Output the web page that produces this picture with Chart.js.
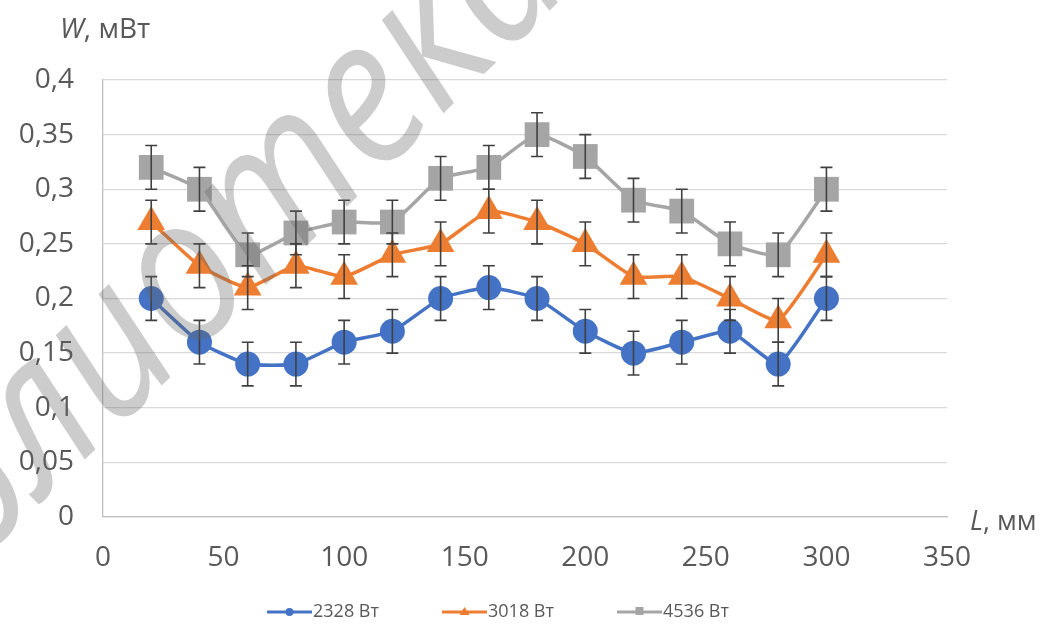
<!DOCTYPE html>
<html>
<head>
<meta charset="utf-8">
<script src="https://cdn.jsdelivr.net/npm/chart.js@4.4.1/dist/chart.umd.min.js"></script>
<style>
html,body{margin:0;padding:0;background:#fff;}
#wrap{width:1049px;height:625px;position:relative;}
</style>
</head>
<body>
<div id="wrap"><canvas id="c" width="1049" height="625"></canvas></div>
<script>
// ---- data ----
const xValues = [20, 40, 60, 80, 100, 120, 140, 160, 180, 200, 220, 240, 260, 280, 300];
const series2328 = [0.20, 0.16, 0.14, 0.14, 0.16, 0.17, 0.20, 0.21, 0.20, 0.17, 0.15, 0.16, 0.17, 0.14, 0.20];
const series3018 = [0.27, 0.23, 0.21, 0.23, 0.22, 0.24, 0.25, 0.28, 0.27, 0.25, 0.22, 0.22, 0.20, 0.18, 0.24];
const series4536 = [0.32, 0.30, 0.24, 0.26, 0.27, 0.27, 0.31, 0.32, 0.35, 0.33, 0.29, 0.28, 0.25, 0.24, 0.30];
const errors2328 = [0.02, 0.02, 0.02, 0.02, 0.02, 0.02, 0.02, 0.02, 0.02, 0.02, 0.02, 0.02, 0.02, 0.02, 0.02];
const errors3018 = [0.02, 0.02, 0.02, 0.02, 0.02, 0.02, 0.02, 0.02, 0.02, 0.02, 0.02, 0.02, 0.02, 0.02, 0.02];
const errors4536 = [0.02, 0.02, 0.02, 0.02, 0.02, 0.02, 0.02, 0.02, 0.02, 0.02, 0.02, 0.02, 0.02, 0.02, 0.02];
const seriesLabels = ['2328 Вт', '3018 Вт', '4536 Вт'];
const yTickLabels = ['0', '0,05', '0,1', '0,15', '0,2', '0,25', '0,3', '0,35', '0,4'];
const xTickLabels = ['0', '50', '100', '150', '200', '250', '300', '350'];
const yAxisTitle = ['W', ', мВт'];
const xAxisTitle = ['L', ', мм'];
const watermarkText = 'библиотека';

const FONT = '"Open Sans", "Liberation Sans", sans-serif';
const TEXT = '#595959';

function pts(ys){ return xValues.map((x,i)=>({x:x, y:ys[i]})); }

const styles = [
  {color:'#4472C4', style:'circle', radius:12.5, errs:errors2328},
  {color:'#ED7D31', style:'triangle', radius:16, errs:errors3018},
  {color:'#A5A5A5', style:'rect', radius:17.5, errs:errors4536}
];
const seriesData = [series2328, series3018, series4536];

const datasets = seriesData.map((ys,i)=>({
  label: seriesLabels[i],
  data: pts(ys),
  borderColor: styles[i].color,
  backgroundColor: styles[i].color,
  borderWidth: 3.5,
  pointStyle: styles[i].style,
  pointRadius: styles[i].radius,
  pointBorderWidth: 0,
  pointBackgroundColor: styles[i].color,
  tension: 0.15,
  fill: false
}));

const errorBarPlugin = {
  id: 'errorBars',
  afterDatasetsDraw(chart){
    const ctx = chart.ctx, xs = chart.scales.x, ys = chart.scales.y;
    ctx.save();
    ctx.strokeStyle = '#404040';
    ctx.lineWidth = 1.6;
    seriesData.forEach((vals, si)=>{
      const errs = styles[si].errs;
      vals.forEach((v,i)=>{
        const px = xs.getPixelForValue(xValues[i]);
        const top = ys.getPixelForValue(v + errs[i]);
        const bot = ys.getPixelForValue(v - errs[i]);
        ctx.beginPath();
        ctx.moveTo(px, top); ctx.lineTo(px, bot);
        ctx.moveTo(px-6, top); ctx.lineTo(px+6, top);
        ctx.moveTo(px-6, bot); ctx.lineTo(px+6, bot);
        ctx.stroke();
      });
    });
    ctx.restore();
  }
};

const decorPlugin = {
  id: 'decor',
  afterDraw(chart){
    const ctx = chart.ctx;
    ctx.save();
    // axis titles
    ctx.fillStyle = TEXT;
    ctx.textBaseline = 'alphabetic';
    ctx.textAlign = 'left';
    ctx.font = 'italic 28px ' + FONT;
    ctx.fillText(yAxisTitle[0], 60, 38);
    let w = ctx.measureText(yAxisTitle[0]).width;
    ctx.font = '28px ' + FONT;
    ctx.fillText(yAxisTitle[1], 60 + w, 38);
    ctx.font = 'italic 27px ' + FONT;
    ctx.fillText(xAxisTitle[0], 970, 530);
    w = ctx.measureText(xAxisTitle[0]).width;
    ctx.font = '27px ' + FONT;
    ctx.fillText(xAxisTitle[1], 970 + w, 530);

    // legend
    const lx = [267, 442, 617];
    const ly = 612;
    ctx.font = '18px ' + FONT;
    ctx.textBaseline = 'middle';
    styles.forEach((s,i)=>{
      ctx.strokeStyle = s.color;
      ctx.fillStyle = s.color;
      ctx.lineWidth = 3;
      ctx.beginPath();
      ctx.moveTo(lx[i], ly); ctx.lineTo(lx[i]+45, ly);
      ctx.stroke();
      const cx = lx[i]+22.5;
      ctx.beginPath();
      if (s.style === 'circle') { ctx.arc(cx, ly, 4, 0, Math.PI*2); }
      else if (s.style === 'triangle') { ctx.moveTo(cx, ly-5); ctx.lineTo(cx+5, ly+3); ctx.lineTo(cx-5, ly+3); ctx.closePath(); }
      else { ctx.rect(cx-4, ly-5, 8, 8); }
      ctx.fill();
      ctx.fillStyle = TEXT;
      ctx.fillText(seriesLabels[i], lx[i]+46, ly);
    });

    // watermark
    const fs = 205;
    ctx.font = 'italic 500 ' + fs + 'px ' + FONT;
    ctx.fillStyle = 'rgba(100,100,100,0.33)';
    ctx.textBaseline = 'alphabetic';
    ctx.translate(265, 200);
    ctx.rotate(-44 * Math.PI / 180);
    ctx.scale(0.88, 1);
    const pre = ctx.measureText('библи').width;
    const ow = ctx.measureText('о').width;
    ctx.fillText(watermarkText, -(pre + ow/2) - 130, fs*0.30);
    ctx.restore();
  }
};

new Chart(document.getElementById('c'), {
  type: 'line',
  data: { datasets },
  options: {
    responsive: false,
    animation: false,
    events: [],
    layout: { padding: { top: 80, right: 102, bottom: 0, left: 0 } },
    plugins: { legend: { display: false }, tooltip: { enabled: false } },
    scales: {
      x: {
        type: 'linear', min: 0, max: 350,
        afterFit(axis){ axis.height = 108; },
        afterBuildTicks(axis){ axis.ticks = xTickLabels.map(t=>({value: Number(t)})); },
        ticks: { stepSize: 50, padding: 24, color: TEXT, font: { family: FONT, size: 28 },
          callback(v){ const i = xTickLabels.indexOf(String(v)); return i>=0 ? xTickLabels[i] : ''; } },
        grid: { display: false, drawTicks: false },
        border: { display: true, color: '#BFBFBF', width: 1.3 }
      },
      y: {
        min: 0, max: 0.4,
        afterFit(axis){ axis.width = 103; },
        afterBuildTicks(axis){ axis.ticks = yTickLabels.map((t,i)=>({value: i*0.05})); },
        ticks: { padding: 29, color: TEXT, font: { family: FONT, size: 28 },
          callback(v, i){ return yTickLabels[i]; } },
        grid: { color: '#D9D9D9', lineWidth: 1.3, drawTicks: false },
        border: { display: true, color: '#BFBFBF', width: 1.3 }
      }
    }
  },
  plugins: [errorBarPlugin, decorPlugin]
});
</script>
</body>
</html>
